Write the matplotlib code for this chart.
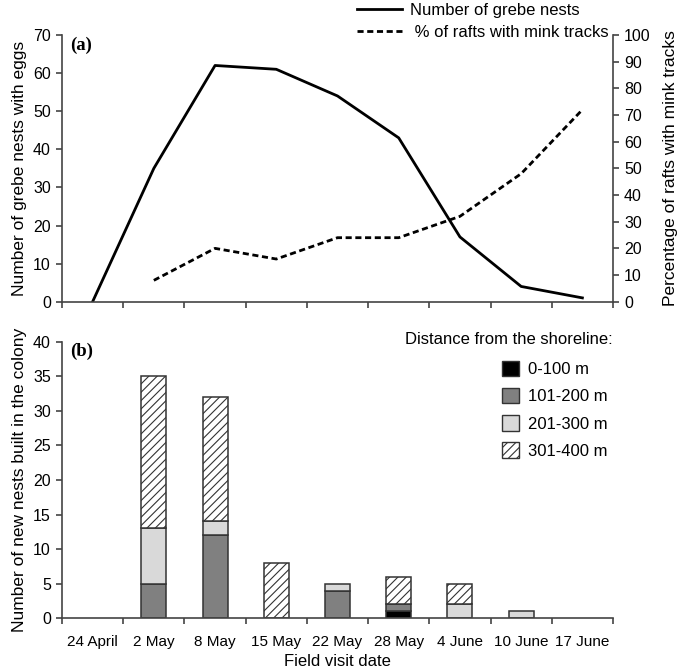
import numpy as np
import matplotlib
matplotlib.use("Agg")
import matplotlib.pyplot as plt
from matplotlib.patches import Patch
from matplotlib.lines import Line2D

# data
dates = ["24 April", "2 May", "8 May", "15 May", "22 May", "28 May", "4 June", "10 June", "17 June"]
grebe_nests = [0, 35, 62, 61, 54, 43, 17, 4, 1]
mink_dates = ["2 May", "8 May", "15 May", "22 May", "28 May", "4 June", "10 June", "17 June"]
mink_pct = [8, 20, 16, 24, 24, 32, 48, 72]

d_0_100 = [0, 0, 0, 0, 0, 1, 0, 0, 0]
d_101_200 = [0, 5, 12, 0, 4, 1, 0, 0, 0]
d_201_300 = [0, 8, 2, 0, 1, 0, 2, 1, 0]
d_301_400 = [0, 22, 18, 8, 0, 4, 3, 0, 0]
dist_labels = ["0-100 m", "101-200 m", "201-300 m", "301-400 m"]

plt.rcParams['font.family'] = ['Liberation Sans', 'DejaVu Sans']
plt.rcParams['hatch.linewidth'] = 0.8
fs = 11.5
spine_c = "#444444"

fig = plt.figure(figsize=(6.85, 6.71), dpi=100)
W, H = 685, 671
ax1 = fig.add_axes([62 / W, 1 - 301.7 / H, 551 / W, (301.7 - 35) / H])
ax2 = fig.add_axes([62 / W, 1 - 618.3 / H, 551 / W, (618.3 - 341.7) / H])

x = np.arange(len(dates))
xm = np.array([dates.index(d) for d in mink_dates])


def style_axis(ax):
    for s in ["left", "bottom", "right"]:
        ax.spines[s].set_color(spine_c)
        ax.spines[s].set_linewidth(1.2)
    ax.spines["top"].set_visible(False)
    ax.tick_params(direction="out", length=4, width=1.2, color=spine_c,
                   labelsize=fs, pad=4)


# ---- panel (a)
ax1.plot(x, grebe_nests, color="black", lw=2)
ax1.set_ylim(0, 70)
ax1.set_yticks(range(0, 71, 10))
ax1.set_xlim(-0.5, len(dates) - 0.5)
ax1.set_xticks(np.arange(-0.5, len(dates), 1.0))
ax1.set_xticklabels([])
ax1.set_ylabel("Number of grebe nests with eggs", fontsize=12.5, labelpad=4)
style_axis(ax1)
ax1.spines["right"].set_visible(False)

ax1r = ax1.twinx()
ax1r.plot(xm, mink_pct, color="black", lw=2, ls=(0, (2.2, 1.3)))
ax1r.set_ylim(0, 100)
ax1r.set_yticks(range(0, 101, 10))
ax1r.set_ylabel("Percentage of rafts with mink tracks", fontsize=12.5, labelpad=9)
style_axis(ax1r)
ax1r.spines["left"].set_visible(False)
ax1r.spines["bottom"].set_visible(False)

ax1.text(0.014, 0.995, "(a)", transform=ax1.transAxes, fontsize=13.5,
         fontweight="bold", family="Liberation Serif", va="top", ha="left")

handles = [Line2D([], [], color="black", lw=2),
           Line2D([], [], color="black", lw=2, ls=(0, (2.2, 1.3)))]
fig.legend(handles, ["Number of grebe nests", " % of rafts with mink tracks"],
           loc="upper left", bbox_to_anchor=(350 / W, 1.005), frameon=False,
           fontsize=fs + 0.5, handlelength=2.7, handletextpad=0.5,
           labelspacing=0.4, borderaxespad=0)

# ---- panel (b)
bw = 0.41
ec = "#333333"
layers = [(d_0_100, "black", None), (d_101_200, "#808080", None),
          (d_201_300, "#d9d9d9", None), (d_301_400, "white", "////")]
bottom = np.zeros(len(dates))
for vals, col, hat in layers:
    vals = np.array(vals, dtype=float)
    nz = vals > 0
    ax2.bar(x[nz], vals[nz], bottom=bottom[nz], width=bw, color=col,
            hatch=hat, edgecolor=ec, linewidth=1.1)
    bottom += vals

ax2.set_ylim(0, 40)
ax2.set_yticks(range(0, 41, 5))
ax2.set_xlim(-0.5, len(dates) - 0.5)
ax2.set_xticks(np.arange(-0.5, len(dates), 1.0))
ax2.set_xticklabels([])
ax2.set_xticks(x, minor=True)
ax2.set_xticklabels(dates, minor=True)
ax2.tick_params(axis="x", which="minor", length=0, labelsize=fs - 0.5, pad=12)
style_axis(ax2)
ax2.spines["right"].set_visible(False)
ax2.set_ylabel("Number of new nests built in the colony", fontsize=12.5, labelpad=4)
fig.text((62 + 551 / 2) / W, 1 - 661 / H, "Field visit date", fontsize=fs + 0.5,
         ha="center", va="center")

ax2.text(0.014, 0.995, "(b)", transform=ax2.transAxes, fontsize=13.5,
         fontweight="bold", family="Liberation Serif", va="top", ha="left")

fig.text(405 / W, 1 - 340 / H, "Distance from the shoreline:", fontsize=fs + 0.5,
         va="center", ha="left")
patches = [Patch(facecolor="black", edgecolor=ec),
           Patch(facecolor="#808080", edgecolor=ec),
           Patch(facecolor="#d9d9d9", edgecolor=ec),
           Patch(facecolor="white", edgecolor=ec, hatch="////")]
fig.legend(patches, dist_labels, loc="upper left",
           bbox_to_anchor=(495 / W, 1 - 354 / H), frameon=False,
           fontsize=fs + 0.5, handlelength=1.05, handleheight=1.05,
           handletextpad=0.5, labelspacing=0.65, borderaxespad=0)

fig.savefig("out.png", dpi=100)
